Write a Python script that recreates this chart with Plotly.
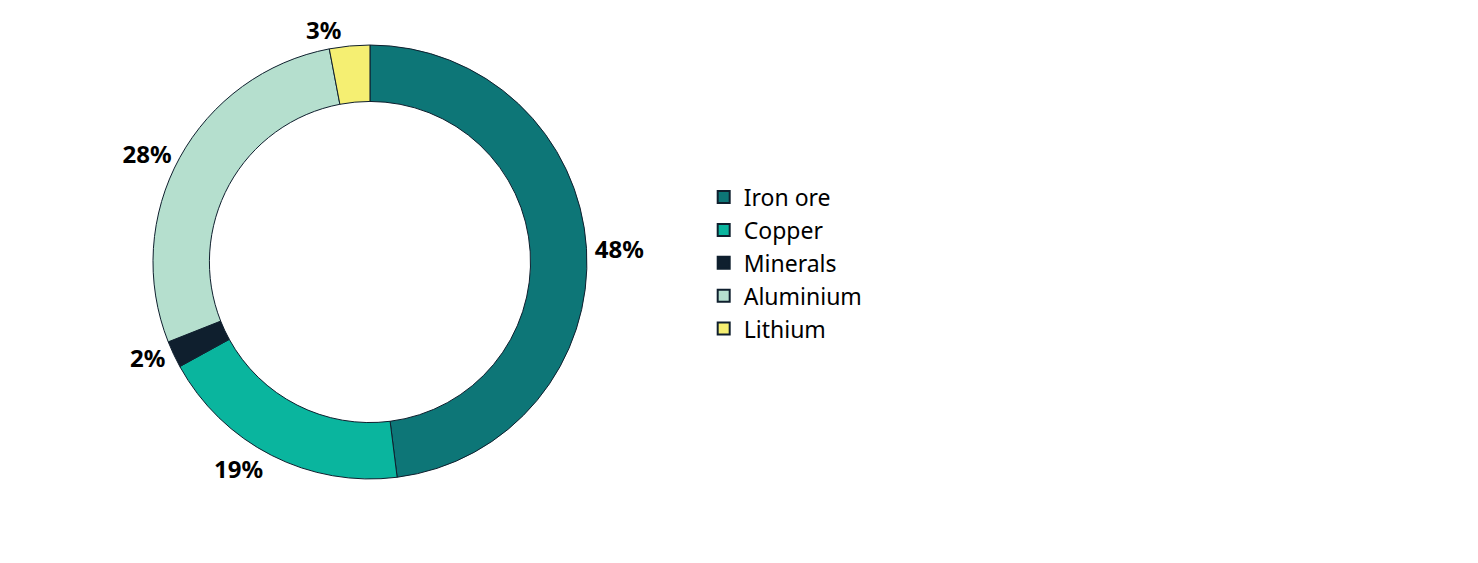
import plotly.graph_objects as go

labels = ["Iron ore", "Copper", "Minerals", "Aluminium", "Lithium"]
values = [48, 19, 2, 28, 3]
colors = ["#0d7677", "#0ab59e", "#0f1f2e", "#b5dfce", "#f5ef72"]

fig = go.Figure(go.Pie(
    labels=labels,
    values=values,
    hole=0.74,
    sort=False,
    direction="clockwise",
    rotation=0,
    marker=dict(colors=colors, line=dict(color="#0f1f2e", width=1)),
    textposition="outside",
    texttemplate="<b>%{percent:.0%}</b>",
    textfont=dict(size=24, color="#000000", family="Noto Sans"),
    domain=dict(x=[0.0981, 0.3917], y=[0.1634, 0.9343]),
    showlegend=True,
))

fig.update_layout(
    width=1478, height=563,
    margin=dict(l=0, r=0, t=0, b=0, autoexpand=False),
    paper_bgcolor="white",
    plot_bgcolor="white",
    font=dict(family="Noto Sans", color="#000000"),
    legend=dict(
        x=0.4707, y=0.547, xanchor="left", yanchor="middle",
        font=dict(size=23, color="#000000", family="Noto Sans"),
        tracegroupgap=0,
        itemsizing="constant",
    ),
)

fig.write_html("out.html")
